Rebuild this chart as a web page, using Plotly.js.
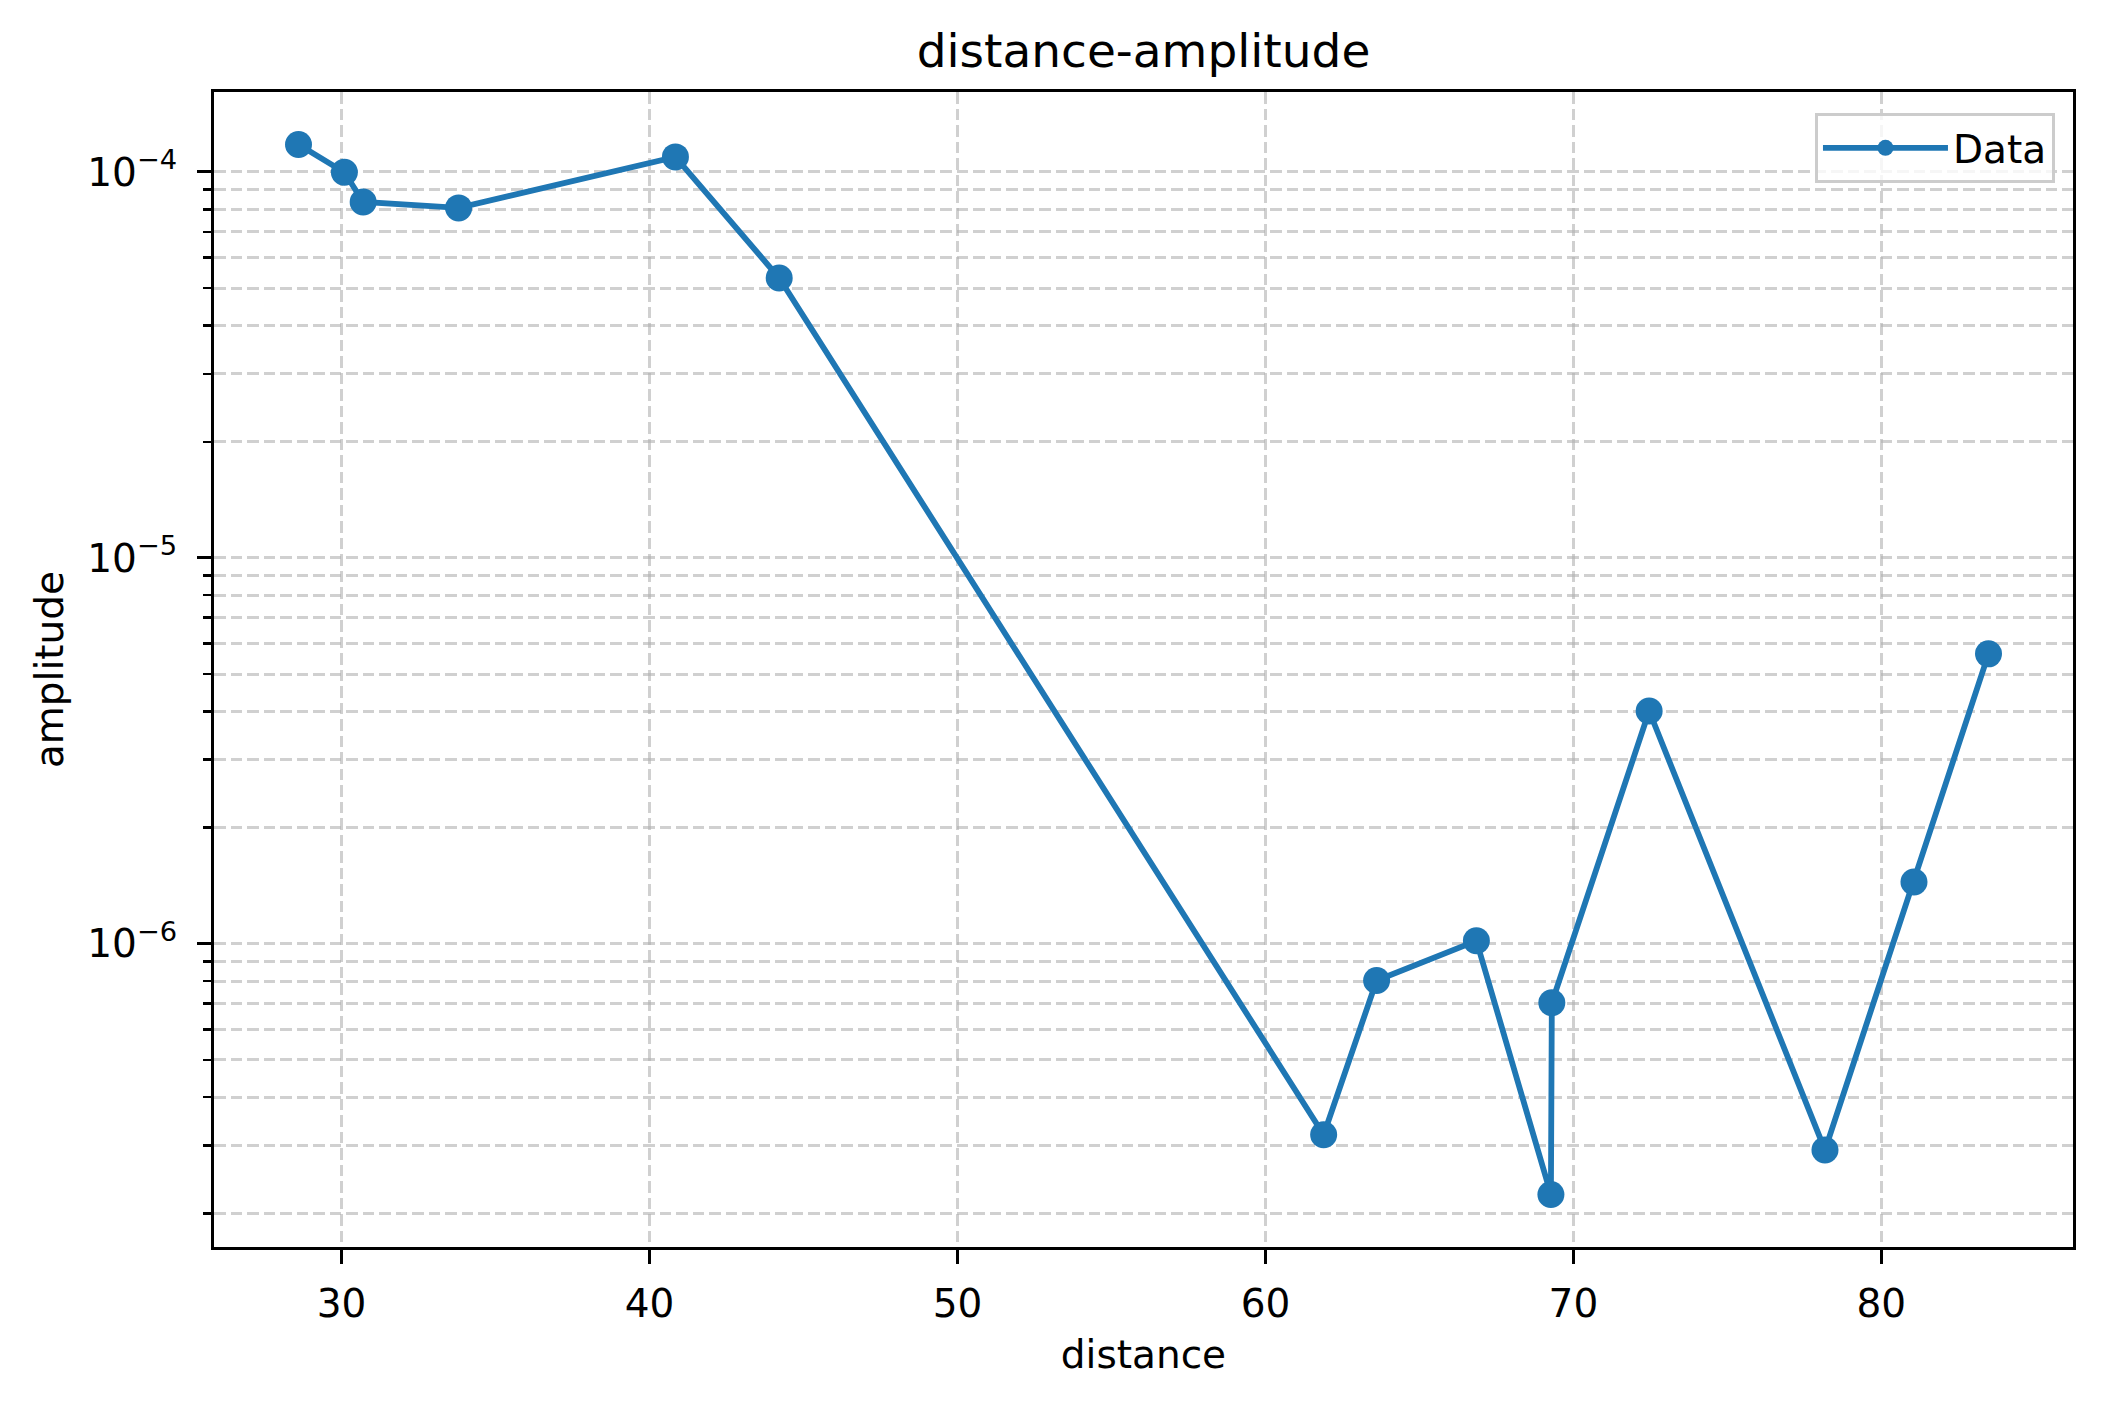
<!DOCTYPE html>
<html>
<head>
<meta charset="utf-8">
<script src="https://cdn.plot.ly/plotly-3.0.1.min.js"></script>
<style>
    html, body { margin: 0; padding: 0; background: #ffffff; }
    #chart { width: 2104px; height: 1407px; }
</style>
</head>
<body>
<div id="chart"></div>
<script>
// distance-amplitude: one line+marker series on a log y axis.

const distance = [
    28.60, 30.09, 30.70, 33.80, 40.84, 44.21, 61.89, 63.61,
    66.85, 69.27, 69.30, 72.46, 78.17, 81.06, 83.48,
];
const amplitude = [
    1.178e-4, 0.998e-4, 8.36e-5, 8.07e-5, 1.094e-4, 5.31e-5, 3.20e-7, 8.03e-7,
    1.018e-6, 2.24e-7, 7.03e-7, 4.01e-6, 2.92e-7, 1.446e-6, 5.64e-6,
];
const seriesName = "Data";
const xTickVals = [30, 40, 50, 60, 70, 80];

const BLUE = "#1f77b4";
const GRID = "rgba(176,176,176,0.6)";
const FONT = "DejaVu Sans, Liberation Sans, sans-serif";
const DASH = "11.5px,5px";

// matplotlib-style 5% padding around the data
function padRange(lo, hi) {
    const m = (hi - lo) * 0.05;
    return [lo - m, hi + m];
}

const xRange = padRange(Math.min(...distance), Math.max(...distance));
const logs = amplitude.map(v => Math.log10(v));
const yRange = padRange(Math.min(...logs), Math.max(...logs));

// decade ticks (10^n) and minor ticks 2..9 inside the range
const majorVals = [], majorText = [], minorVals = [];
for (let d = Math.floor(yRange[0]); d <= Math.ceil(yRange[1]); d++) {
    if (d > yRange[0] && d < yRange[1]) {
        majorVals.push(Math.pow(10, d));
        majorText.push("10<sup>\u2212" + Math.abs(d) + "</sup>");
    }
    for (let k = 2; k <= 9; k++) {
        const v = k * Math.pow(10, d);
        const lv = Math.log10(v);
        if (lv > yRange[0] && lv < yRange[1]) minorVals.push(v);
    }
}

const trace = {
    x: distance,
    y: amplitude,
    type: "scatter",
    mode: "lines+markers",
    name: seriesName,
    line: { color: BLUE, width: 5.8 },
    marker: { color: BLUE, size: 27, line: { width: 0 } },
};

const layout = {
    width: 2104,
    height: 1407,
    paper_bgcolor: "#ffffff",
    plot_bgcolor: "#ffffff",
    font: { family: FONT, size: 39, color: "#000000" },
    margin: { l: 214, r: 31, t: 92, b: 160 },
    title: {
        text: "distance-amplitude",
        font: { size: 47 },
        x: 0.5,
        xref: "paper",
        y: 1,
        yref: "paper",
        yanchor: "bottom",
        pad: { b: 25 },
    },
    xaxis: {
        range: xRange,
        tickmode: "array",
        tickvals: xTickVals,
        ticks: "outside",
        ticklen: 14,
        tickwidth: 3,
        tickcolor: "#000000",
        ticklabelstandoff: 6,
        showline: true,
        linecolor: "#000000",
        linewidth: 3,
        mirror: true,
        showgrid: true,
        gridcolor: GRID,
        gridwidth: 3,
        griddash: DASH,
        zeroline: false,
        automargin: false,
        title: { text: "distance", font: { size: 39 }, standoff: 16 },
    },
    yaxis: {
        type: "log",
        range: yRange,
        tickmode: "array",
        tickvals: majorVals,
        ticktext: majorText,
        ticks: "outside",
        ticklen: 14,
        tickwidth: 3,
        tickcolor: "#000000",
        ticklabelstandoff: 12,
        showline: true,
        linecolor: "#000000",
        linewidth: 3,
        mirror: true,
        showgrid: true,
        gridcolor: GRID,
        gridwidth: 3,
        griddash: DASH,
        zeroline: false,
        automargin: false,
        minor: {
            tickmode: "array",
            tickvals: minorVals,
            ticks: "outside",
            ticklen: 8,
            tickwidth: 2.3,
            tickcolor: "#000000",
            showgrid: true,
            gridcolor: GRID,
            gridwidth: 3,
            griddash: DASH,
        },
        title: { text: "amplitude", font: { size: 39 }, standoff: 12 },
    },
    showlegend: true,
    legend: {
        x: 0.9903,
        xanchor: "right",
        y: 0.9818,
        yanchor: "top",
        bgcolor: "rgba(255,255,255,0.8)",
        bordercolor: "#cccccc",
        borderwidth: 3,
        itemwidth: 125,
        font: { size: 39 },
    },
};

Plotly.newPlot("chart", [trace], layout, { staticPlot: true, displayModeBar: false });
</script>
</body>
</html>
